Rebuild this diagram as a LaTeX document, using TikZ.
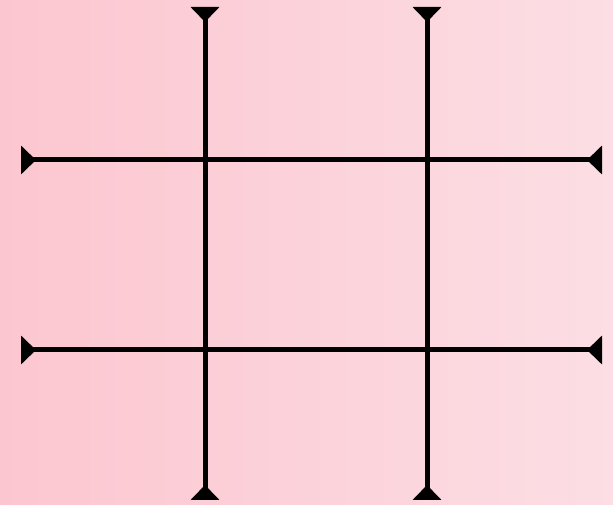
\documentclass[tikz,border=0pt]{standalone}
\usetikzlibrary{arrows.meta}

\definecolor{bgleft}{RGB}{252,198,208}
\definecolor{bgright}{RGB}{252,222,228}

\tikzset{endtip/.tip={Triangle[reversed, length=15pt, width=28pt]}}

\begin{document}
\begin{tikzpicture}[x=1pt, y=1pt,
    gridline/.style={line width=5pt, black, endtip-endtip}]
    % Background
    \shade[left color=bgleft, right color=bgright] (0,0) rectangle (613,505);
    \useasboundingbox (0,0) rectangle (613,505);

    % End points of the lines
    \coordinate (V1top) at (205,498);
    \coordinate (V1bot) at (205,5);
    \coordinate (V2top) at (427,498);
    \coordinate (V2bot) at (427,5);
    \coordinate (H1left) at (21,345);
    \coordinate (H1right) at (602,345);
    \coordinate (H2left) at (21,155);
    \coordinate (H2right) at (602,155);

    % Vertical lines
    \draw[gridline] (V1top) -- (V1bot);
    \draw[gridline] (V2top) -- (V2bot);

    % Horizontal lines
    \draw[gridline] (H1left) -- (H1right);
    \draw[gridline] (H2left) -- (H2right);
\end{tikzpicture}
\end{document}
